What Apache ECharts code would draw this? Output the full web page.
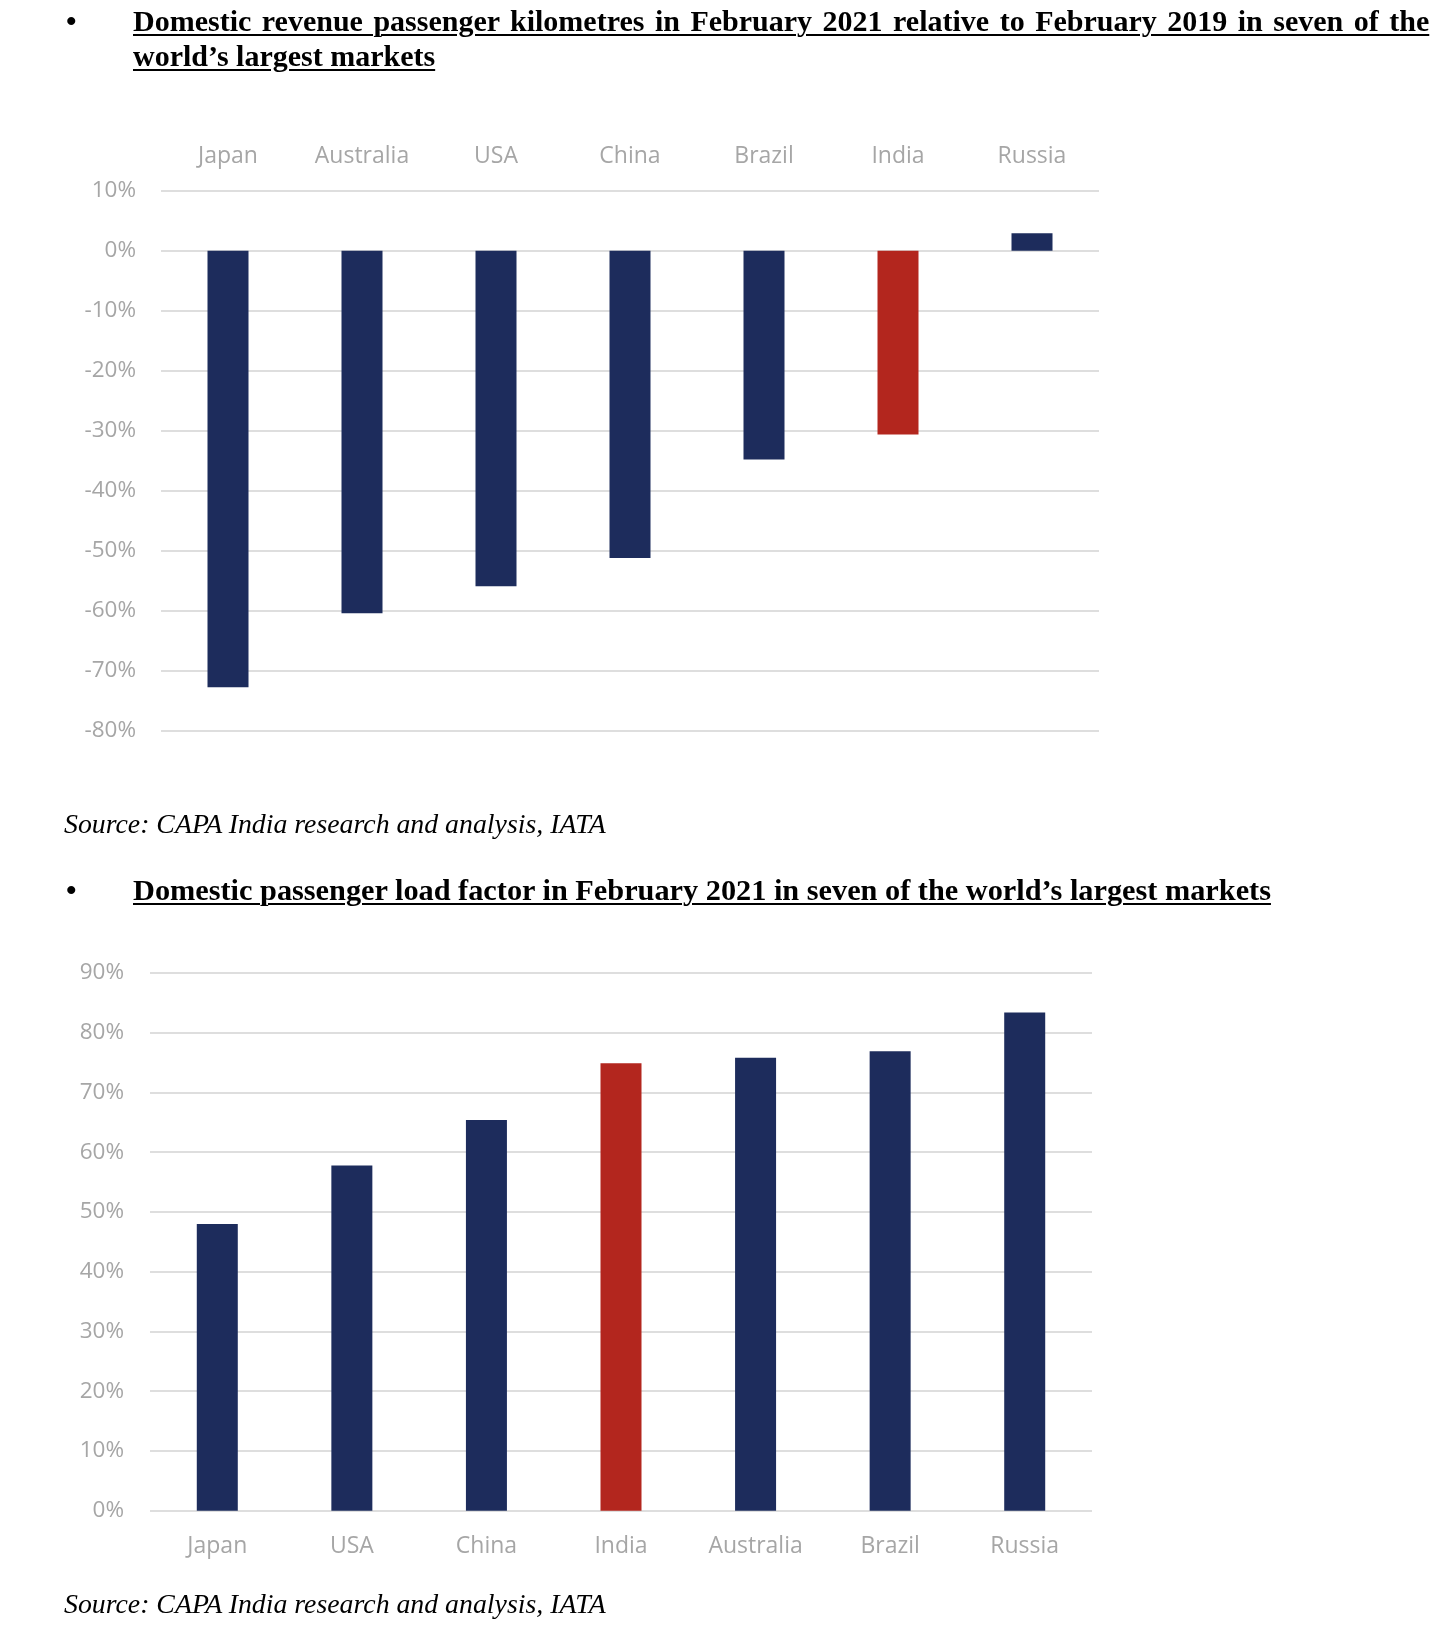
<!DOCTYPE html>
<html>
<head>
<meta charset="utf-8">
<script src="https://cdn.jsdelivr.net/npm/echarts@6/dist/echarts.min.js"></script>
<style>
  html, body { margin: 0; padding: 0; background: #fff; width: 1430px; height: 1626px; overflow: hidden; }
  #chart { position: absolute; left: 0; top: 0; width: 1430px; height: 1626px; }
  .t { position: absolute; white-space: nowrap; font-family: "Liberation Serif", "Times New Roman", serif; color: #000; line-height: 1; }
  .title { font-weight: bold; font-size: 30px; text-decoration: underline; text-decoration-thickness: 2px; text-underline-offset: 3px; }
  .bullet { font-size: 30px; font-weight: bold; }
  .src { font-style: italic; font-size: 27.8px; }
</style>
</head>
<body>
<div id="chart"></div>
<div class="t bullet" style="left:66px; top:6px;">•</div>
<div class="t title" style="left:133px; top:6px; word-spacing:3px;">Domestic revenue passenger kilometres in February 2021 relative to February 2019 in seven of the</div>
<div class="t title" style="left:133px; top:41px;">world’s largest markets</div>
<div class="t src" style="left:64px; top:810px;">Source: CAPA India research and analysis, IATA</div>
<div class="t bullet" style="left:66px; top:875px;">•</div>
<div class="t title" style="left:133px; top:875px; font-size:30.3px;">Domestic passenger load factor in February 2021 in seven of the world’s largest markets</div>
<div class="t src" style="left:64px; top:1590px;">Source: CAPA India research and analysis, IATA</div>
<script>
// Chart 1: Domestic RPK Feb 2021 vs Feb 2019 (%)
const categories1 = ['Japan', 'Australia', 'USA', 'China', 'Brazil', 'India', 'Russia'];
const values1 = [-72.7, -60.4, -55.9, -51.2, -34.8, -30.6, 2.9];
const ticks1 = { min: -80, max: 10, interval: 10 };

// Chart 2: Domestic passenger load factor Feb 2021 (%)
const categories2 = ['Japan', 'USA', 'China', 'India', 'Australia', 'Brazil', 'Russia'];
const values2 = [48.0, 57.8, 65.4, 74.9, 75.8, 76.9, 83.4];
const ticks2 = { min: 0, max: 90, interval: 10 };

const highlight = 'India';

const NAVY = '#1d2c5c';
const RED = '#b3261e';
const GRID = '#dedede';
const LABEL = '#a6a6a6';
const FONT = '"Open Sans", Lato, sans-serif';

function colorFor(cats) {
  return function (p) { return cats[p.dataIndex] === highlight ? RED : NAVY; };
}

const chart = echarts.init(document.getElementById('chart'), null, { renderer: 'canvas' });

const catAxisBase = {
  type: 'category',
  axisLine: { show: false },
  axisTick: { show: false },
  axisLabel: { color: LABEL, fontFamily: FONT, fontSize: 23, margin: 23 },
  splitLine: { show: false }
};
const valAxisBase = {
  type: 'value',
  axisLine: { show: false },
  axisTick: { show: false },
  axisLabel: { color: LABEL, fontFamily: FONT, fontSize: 22.5, margin: 25, formatter: '{value}%' },
  splitLine: { show: true, lineStyle: { color: GRID, width: 2 } }
};

chart.setOption({
  animation: false,
  grid: [
    { left: 161, right: 331, top: 190.6, height: 540.4, containLabel: false },
    { left: 150, right: 338, top: 973, height: 537.7, containLabel: false }
  ],
  xAxis: [
    Object.assign({}, catAxisBase, { gridIndex: 0, position: 'top', data: categories1 }),
    Object.assign({}, catAxisBase, { gridIndex: 1, position: 'bottom', data: categories2,
      axisLabel: Object.assign({}, catAxisBase.axisLabel, { margin: 24 }) })
  ],
  yAxis: [
    Object.assign({}, valAxisBase, { gridIndex: 0, min: ticks1.min, max: ticks1.max, interval: ticks1.interval }),
    Object.assign({}, valAxisBase, { gridIndex: 1, min: ticks2.min, max: ticks2.max, interval: ticks2.interval,
      axisLabel: Object.assign({}, valAxisBase.axisLabel, { margin: 26 }) })
  ],
  series: [
    { type: 'bar', xAxisIndex: 0, yAxisIndex: 0, data: values1, barWidth: 41,
      itemStyle: { color: colorFor(categories1) } },
    { type: 'bar', xAxisIndex: 1, yAxisIndex: 1, data: values2, barWidth: 41,
      itemStyle: { color: colorFor(categories2) } }
  ]
});
</script>
</body>
</html>
